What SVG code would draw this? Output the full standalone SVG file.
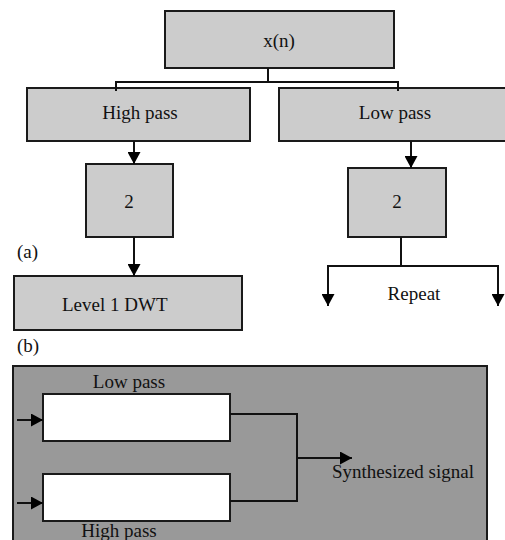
<svg xmlns="http://www.w3.org/2000/svg" width="505" height="540" viewBox="0 0 505 540">
<style>
.box{fill:#cccccc;stroke:#1a1a1a;stroke-width:2}
.wbox{fill:#ffffff;stroke:#1a1a1a;stroke-width:2}
.ln{fill:none;stroke:#111;stroke-width:2}
.t{font-family:"Liberation Serif","Times New Roman",serif;font-size:19px;fill:#111}
.c{text-anchor:middle}
</style>
<defs>
<marker id="ah" markerUnits="userSpaceOnUse" markerWidth="13" markerHeight="13" refX="12" refY="6.5" orient="auto">
<path d="M0,0 L12,6.5 L0,13 z" fill="#000"/>
</marker>
</defs>
<rect width="505" height="540" fill="#ffffff"/>
<g id="panel-b">
<rect x="13" y="366" width="474" height="180" fill="#999999" stroke="#1a1a1a" stroke-width="2"/>
</g>
<g id="xn"><rect class="box" x="165" y="11" width="229" height="57"/><text class="t c" x="279" y="47">x(n)</text></g>
<g id="highpass"><rect class="box" x="27" y="88" width="223" height="53"/><text class="t c" x="140" y="119">High pass</text></g>
<g id="lowpass"><rect class="box" x="279" y="88" width="228" height="53"/><text class="t c" x="395" y="119">Low pass</text></g>
<g id="down-left"><rect class="box" x="86" y="164" width="87" height="73"/><text class="t c" x="129" y="208">2</text></g>
<g id="down-right"><rect class="box" x="348" y="168" width="98" height="69"/><text class="t c" x="397" y="208">2</text></g>
<g id="level1"><rect class="box" x="14" y="276" width="228" height="54"/><text class="t" x="62" y="311">Level 1 DWT</text></g>
<g id="repeat"><text class="t c" x="414" y="300">Repeat</text></g>
<g id="label-a"><text class="t" x="17" y="258">(a)</text></g>
<g id="label-b"><text class="t" x="17" y="352">(b)</text></g>
<g id="lp-filter"><rect class="wbox" x="43" y="394" width="187" height="47"/><text class="t c" x="129" y="388">Low pass</text></g>
<g id="hp-filter"><rect class="wbox" x="43" y="474" width="187" height="47"/><text class="t c" x="119" y="537">High pass</text></g>
<g id="output"><text class="t" x="332" y="478">Synthesized signal</text></g>
<g id="connectors">
<path class="ln" d="M268,68 V82 M116,91 V82 H398 V91"/>
<path class="ln" d="M134,141 V164" marker-end="url(#ah)"/>
<path class="ln" d="M411,141 V168" marker-end="url(#ah)"/>
<path class="ln" d="M134,237 V276" marker-end="url(#ah)"/>
<path class="ln" d="M401,237 V266 M328,266 H498"/>
<path class="ln" d="M328,265 V306" marker-end="url(#ah)"/>
<path class="ln" d="M498,265 V306" marker-end="url(#ah)"/>
<path class="ln" d="M17,420 H43" marker-end="url(#ah)"/>
<path class="ln" d="M17,503 H43" marker-end="url(#ah)"/>
<path class="ln" d="M230,414 H297 V501 H230"/>
<path class="ln" d="M297,458 H352" marker-end="url(#ah)"/>
</g>
</svg>
